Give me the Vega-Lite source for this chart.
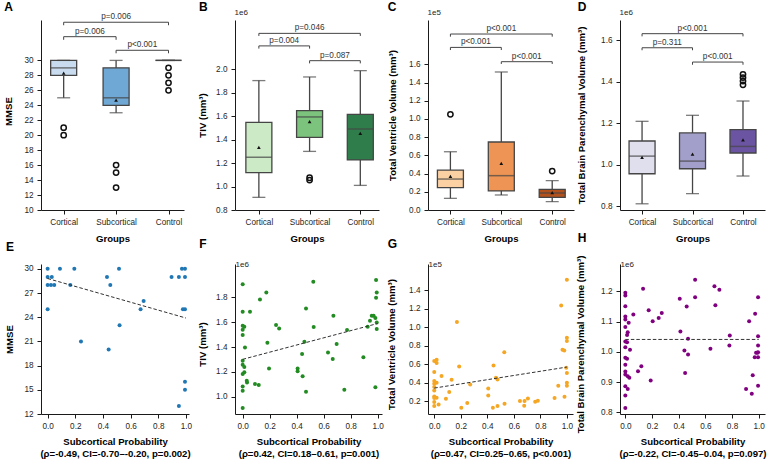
{
"$schema":"https://vega.github.io/schema/vega-lite/v6.json",
"padding":{"left":3,"top":0,"right":5,"bottom":5},
"columns":4,
"spacing":{"row":54,"column":46},
"bounds":"flush",
"resolve":{"scale":{"color":"independent"}},
"config":{"font":"Liberation Sans","view":{"stroke":null},
"axis":{"grid":false,"labelOverlap":false,"labelSeparation":0,"domainColor":"#1a1a1a","tickColor":"#1a1a1a","domainWidth":1,"tickWidth":1,"tickSize":4,"labelFontSize":8.2,"labelColor":"#262626","labelPadding":4,"titleFontSize":9.6,"titleFontWeight":"bold","titleColor":"#000000"},
"axisX":{"labelPadding":4},
"title":{"fontSize":12,"fontWeight":"bold","anchor":"start","frame":"group","color":"#000000","baseline":"alphabetic"}},
"datasets":{
"boxA":[{"group":"Cortical","gx":0,"lower":25,"q1":28,"median":29,"q3":30,"upper":30,"mean":28.3},{"group":"Subcortical","gx":1,"lower":23,"q1":24,"median":25,"q3":29,"upper":30,"mean":24.7},{"group":"Control","gx":2,"lower":30,"q1":30,"median":30,"q3":30,"upper":30,"mean":null}],
"boxB":[{"group":"Cortical","gx":0,"lower":908000,"q1":1119000,"median":1250000,"q3":1548000,"upper":1904000,"mean":1335000},{"group":"Subcortical","gx":1,"lower":1300000,"q1":1420000,"median":1594000,"q3":1648000,"upper":1935000,"mean":1554000},{"group":"Control","gx":2,"lower":1010000,"q1":1227000,"median":1491000,"q3":1616000,"upper":1989000,"mean":1454000}],
"boxC":[{"group":"Cortical","gx":0,"lower":12800,"q1":24500,"median":34000,"q3":43900,"upper":64000,"mean":36900},{"group":"Subcortical","gx":1,"lower":16500,"q1":20900,"median":37700,"q3":74700,"upper":151600,"mean":51200},{"group":"Control","gx":2,"lower":9100,"q1":13900,"median":18700,"q3":22600,"upper":32200,"mean":19000}],
"boxD":[{"group":"Cortical","gx":0,"lower":811000,"q1":956000,"median":1041000,"q3":1114000,"upper":1209000,"mean":1035000},{"group":"Subcortical","gx":1,"lower":860000,"q1":980000,"median":1017000,"q3":1153000,"upper":1238000,"mean":1051000},{"group":"Control","gx":2,"lower":945000,"q1":1056000,"median":1088000,"q3":1169000,"upper":1307000,"mean":1119000}],
"outA":[{"gx":0,"value":21},{"gx":0,"value":20},{"gx":1,"value":16},{"gx":1,"value":15},{"gx":1,"value":13},{"gx":2,"value":29},{"gx":2,"value":28},{"gx":2,"value":27},{"gx":2,"value":26}],
"outB":[{"gx":1,"value":1055000},{"gx":1,"value":1075000}],
"outC":[{"gx":0,"value":105100},{"gx":2,"value":42800}],
"outD":[{"gx":2,"value":1436000},{"gx":2,"value":1420000},{"gx":2,"value":1403000},{"gx":2,"value":1385000}],
"brA":[{"b":"cs","o":0,"gx":0,"y":32.75},{"b":"cs","o":1,"gx":0,"y":33.17},{"b":"cs","o":2,"gx":1,"y":33.17},{"b":"cs","o":3,"gx":1,"y":32.75},{"b":"cc","o":0,"gx":0,"y":34.7},{"b":"cc","o":1,"gx":0,"y":35.1},{"b":"cc","o":2,"gx":2,"y":35.1},{"b":"cc","o":3,"gx":2,"y":34.7},{"b":"sc","o":0,"gx":1,"y":30.95},{"b":"sc","o":1,"gx":1,"y":31.35},{"b":"sc","o":2,"gx":2,"y":31.35},{"b":"sc","o":3,"gx":2,"y":30.95}],
"brB":[{"b":"cs","o":0,"gx":0,"y":2177000},{"b":"cs","o":1,"gx":0,"y":2200000},{"b":"cs","o":2,"gx":1,"y":2200000},{"b":"cs","o":3,"gx":1,"y":2177000},{"b":"cc","o":0,"gx":0,"y":2285000},{"b":"cc","o":1,"gx":0,"y":2307000},{"b":"cc","o":2,"gx":2,"y":2307000},{"b":"cc","o":3,"gx":2,"y":2285000},{"b":"sc","o":0,"gx":1,"y":2051000},{"b":"sc","o":1,"gx":1,"y":2074000},{"b":"sc","o":2,"gx":2,"y":2074000},{"b":"sc","o":3,"gx":2,"y":2051000}],
"brC":[{"b":"cs","o":0,"gx":0,"y":175700},{"b":"cs","o":1,"gx":0,"y":178600},{"b":"cs","o":2,"gx":1,"y":178600},{"b":"cs","o":3,"gx":1,"y":175700},{"b":"cc","o":0,"gx":0,"y":190400},{"b":"cc","o":1,"gx":0,"y":193300},{"b":"cc","o":2,"gx":2,"y":193300},{"b":"cc","o":3,"gx":2,"y":190400},{"b":"sc","o":0,"gx":1,"y":160400},{"b":"sc","o":1,"gx":1,"y":162900},{"b":"sc","o":2,"gx":2,"y":162900},{"b":"sc","o":3,"gx":2,"y":160400}],
"brD":[{"b":"cs","o":0,"gx":0,"y":1552000},{"b":"cs","o":1,"gx":0,"y":1564000},{"b":"cs","o":2,"gx":1,"y":1564000},{"b":"cs","o":3,"gx":1,"y":1552000},{"b":"cc","o":0,"gx":0,"y":1619000},{"b":"cc","o":1,"gx":0,"y":1632000},{"b":"cc","o":2,"gx":2,"y":1632000},{"b":"cc","o":3,"gx":2,"y":1619000},{"b":"sc","o":0,"gx":1,"y":1482000},{"b":"sc","o":1,"gx":1,"y":1495000},{"b":"sc","o":2,"gx":2,"y":1495000},{"b":"sc","o":3,"gx":2,"y":1482000}],
"lbA":[{"gx":0.5,"y":33.17,"label":"p=0.006"},{"gx":1,"y":35.1,"label":"p=0.006"},{"gx":1.5,"y":31.35,"label":"p<0.001"}],
"lbB":[{"gx":0.5,"y":2200000,"label":"p=0.004"},{"gx":1,"y":2307000,"label":"p=0.046"},{"gx":1.5,"y":2074000,"label":"p=0.087"}],
"lbC":[{"gx":0.5,"y":178600,"label":"p<0.001"},{"gx":1,"y":193300,"label":"p<0.001"},{"gx":1.5,"y":162900,"label":"p<0.001"}],
"lbD":[{"gx":0.5,"y":1564000,"label":"p=0.311"},{"gx":1,"y":1632000,"label":"p<0.001"},{"gx":1.5,"y":1495000,"label":"p<0.001"}],
"scE":[{"prob":0,"value":30},{"prob":0,"value":29},{"prob":0.03,"value":29},{"prob":0,"value":28},{"prob":0.024,"value":28},{"prob":0.048,"value":28},{"prob":0,"value":25},{"prob":0.089,"value":30},{"prob":0.193,"value":30},{"prob":0.164,"value":28},{"prob":0.241,"value":21},{"prob":0.429,"value":29},{"prob":0.453,"value":28},{"prob":0.516,"value":30},{"prob":0.52,"value":23},{"prob":0.441,"value":20},{"prob":0.672,"value":25},{"prob":0.694,"value":26},{"prob":0.896,"value":29},{"prob":0.949,"value":29},{"prob":0.971,"value":30},{"prob":0.993,"value":30},{"prob":0.993,"value":29},{"prob":0.978,"value":25},{"prob":0.993,"value":25},{"prob":0.993,"value":16},{"prob":0.993,"value":15},{"prob":0.949,"value":13}],
"scF":[{"prob":0,"value":1907000},{"prob":0,"value":1685000},{"prob":0,"value":1572000},{"prob":0.012,"value":1564000},{"prob":0,"value":1540000},{"prob":0,"value":1497000},{"prob":0.017,"value":1397000},{"prob":0,"value":1290000},{"prob":0,"value":1258000},{"prob":0.012,"value":1239000},{"prob":0,"value":1183000},{"prob":0.012,"value":1196000},{"prob":0,"value":1081000},{"prob":0,"value":1048000},{"prob":0,"value":909000},{"prob":0.03,"value":1129000},{"prob":0.032,"value":1115000},{"prob":0.054,"value":1685000},{"prob":0.091,"value":1102000},{"prob":0.119,"value":1094000},{"prob":0.128,"value":1784000},{"prob":0.175,"value":1840000},{"prob":0.183,"value":1435000},{"prob":0.195,"value":1228000},{"prob":0.247,"value":1577000},{"prob":0.27,"value":1550000},{"prob":0.407,"value":1228000},{"prob":0.407,"value":1204000},{"prob":0.44,"value":1344000},{"prob":0.444,"value":1164000},{"prob":0.457,"value":1443000},{"prob":0.469,"value":1711000},{"prob":0.469,"value":1040000},{"prob":0.523,"value":1926000},{"prob":0.526,"value":1561000},{"prob":0.632,"value":1357000},{"prob":0.667,"value":1303000},{"prob":0.672,"value":1652000},{"prob":0.696,"value":1424000},{"prob":0.753,"value":1056000},{"prob":0.773,"value":1537000},{"prob":0.894,"value":1317000},{"prob":0.926,"value":1564000},{"prob":0.943,"value":1612000},{"prob":0.956,"value":1652000},{"prob":0.97,"value":1652000},{"prob":0.983,"value":1634000},{"prob":0.993,"value":1599000},{"prob":0.993,"value":1545000},{"prob":0.988,"value":1940000},{"prob":0.993,"value":1840000},{"prob":0.988,"value":1797000},{"prob":0.983,"value":1075000}],
"scG":[{"prob":0,"value":63400},{"prob":0,"value":51500},{"prob":0,"value":41700},{"prob":0,"value":38800},{"prob":0,"value":35200},{"prob":0,"value":31600},{"prob":0,"value":25100},{"prob":0,"value":23300},{"prob":0,"value":18900},{"prob":0,"value":14600},{"prob":0.018,"value":64800},{"prob":0.018,"value":61200},{"prob":0.018,"value":39900},{"prob":0.018,"value":23600},{"prob":0.033,"value":16400},{"prob":0.055,"value":47100},{"prob":0.088,"value":22500},{"prob":0.113,"value":29800},{"prob":0.131,"value":43200},{"prob":0.171,"value":105700},{"prob":0.188,"value":57600},{"prob":0.204,"value":12800},{"prob":0.249,"value":17800},{"prob":0.271,"value":38100},{"prob":0.407,"value":33700},{"prob":0.407,"value":26200},{"prob":0.447,"value":58700},{"prob":0.442,"value":12800},{"prob":0.465,"value":45300},{"prob":0.477,"value":43500},{"prob":0.477,"value":14600},{"prob":0.528,"value":73100},{"prob":0.53,"value":17100},{"prob":0.646,"value":20000},{"prob":0.678,"value":15000},{"prob":0.681,"value":20000},{"prob":0.706,"value":22900},{"prob":0.761,"value":19300},{"prob":0.781,"value":20400},{"prob":0.907,"value":23300},{"prob":0.935,"value":36600},{"prob":0.957,"value":123700},{"prob":0.967,"value":75700},{"prob":0.98,"value":75000},{"prob":0.982,"value":24700},{"prob":0.995,"value":56200},{"prob":1.0,"value":151600},{"prob":1.0,"value":88700},{"prob":1.0,"value":85100},{"prob":1.0,"value":50400},{"prob":1.0,"value":40000},{"prob":1.0,"value":36600}],
"scH":[{"prob":0,"value":1196000},{"prob":0,"value":1187000},{"prob":0,"value":1151000},{"prob":0,"value":1117000},{"prob":0,"value":1107000},{"prob":0,"value":1082000},{"prob":0,"value":1034000},{"prob":0,"value":1015000},{"prob":0,"value":980000},{"prob":0,"value":957000},{"prob":0,"value":935000},{"prob":0,"value":925000},{"prob":0,"value":886000},{"prob":0,"value":855000},{"prob":0,"value":814000},{"prob":0.013,"value":1056000},{"prob":0.013,"value":1032000},{"prob":0.013,"value":977000},{"prob":0.018,"value":919000},{"prob":0.018,"value":877000},{"prob":0.018,"value":1065000},{"prob":0.025,"value":1096000},{"prob":0.03,"value":914000},{"prob":0.035,"value":1007000},{"prob":0.06,"value":1124000},{"prob":0.095,"value":936000},{"prob":0.12,"value":952000},{"prob":0.133,"value":1209000},{"prob":0.175,"value":1138000},{"prob":0.19,"value":905000},{"prob":0.205,"value":1101000},{"prob":0.25,"value":1112000},{"prob":0.273,"value":1129000},{"prob":0.408,"value":1176000},{"prob":0.413,"value":1067000},{"prob":0.443,"value":1004000},{"prob":0.448,"value":930000},{"prob":0.46,"value":1150000},{"prob":0.47,"value":1043000},{"prob":0.47,"value":991000},{"prob":0.523,"value":1239000},{"prob":0.523,"value":1181000},{"prob":0.638,"value":1010000},{"prob":0.668,"value":1217000},{"prob":0.675,"value":1154000},{"prob":0.705,"value":1206000},{"prob":0.78,"value":1021000},{"prob":0.783,"value":1054000},{"prob":0.905,"value":877000},{"prob":0.928,"value":1101000},{"prob":0.948,"value":861000},{"prob":0.955,"value":922000},{"prob":0.97,"value":982000},{"prob":0.973,"value":1126000},{"prob":0.98,"value":997000},{"prob":0.99,"value":997000},{"prob":0.995,"value":1181000},{"prob":0.995,"value":888000},{"prob":0.995,"value":1052000},{"prob":0.995,"value":1021000},{"prob":0.995,"value":982000},{"prob":0.995,"value":999000}],
"fitE":[{"prob":0,"value":28.8},{"prob":1,"value":23.9}],
"fitF":[{"prob":0,"value":1301000},{"prob":1,"value":1590000}],
"fitG":[{"prob":0,"value":34100},{"prob":1,"value":56900}],
"fitH":[{"prob":0,"value":1041000},{"prob":1,"value":1041000}]
},
"concat":[
{"width":143,"height":190,"title":{"text":"A","dx":-36.7,"offset":-1.5},
 "layer":[
  {"encoding":{"x":{"field":"gx","type":"quantitative","scale":{"domain":[-0.337,2.2],"nice":false,"zero":false},"axis":{"values":[0,1,2],"tickCount":30,"labelOverlap":false,"labelExpr":"['Cortical','Subcortical','Control'][datum.value]","title":"Groups","titleY":23,"titleBaseline":"top"}}},
   "layer":[
    {"data":{"name":"boxA"},"mark":{"type":"rule","color":"#454545","strokeWidth":1.3},"encoding":{"y":{"field":"lower","type":"quantitative","scale":{"domain":[10,35.4],"nice":false,"zero":false},"axis":{"values":[10,12,14,16,18,20,22,24,26,28,30],"tickCount":30,"format":"d","labelOverlap":false,"title":"MMSE","titleX":-32.7,"titleY":91,"titleBaseline":"middle"}},"y2":{"field":"upper"}}},
    {"data":{"name":"boxA"},"mark":{"type":"bar","size":26,"stroke":"#454545","strokeWidth":1.3},"encoding":{"y":{"field":"q1","type":"quantitative"},"y2":{"field":"q3"},"color":{"field":"group","type":"nominal","scale":{"domain":["Cortical","Subcortical","Control"],"range":["#c9dcef","#6fa8d4","#2f7ebc"]},"legend":null}}},
    {"data":{"name":"boxA"},"mark":{"type":"tick","orient":"horizontal","size":13,"thickness":1.3,"color":"#454545"},"encoding":{"y":{"field":"lower","type":"quantitative"}}},
    {"data":{"name":"boxA"},"mark":{"type":"tick","orient":"horizontal","size":13,"thickness":1.3,"color":"#454545"},"encoding":{"y":{"field":"upper","type":"quantitative"}}},
    {"data":{"name":"boxA"},"mark":{"type":"tick","orient":"horizontal","size":26,"thickness":1.5,"color":"#454545"},"encoding":{"y":{"field":"median","type":"quantitative"}}},
    {"data":{"name":"boxA"},"mark":{"type":"point","shape":"triangle-up","filled":true,"size":14,"color":"#111111","opacity":1},"encoding":{"y":{"field":"mean","type":"quantitative"}}},
    {"data":{"name":"outA"},"mark":{"type":"point","shape":"circle","filled":false,"size":28,"stroke":"#111111","strokeWidth":1.5,"opacity":1},"encoding":{"y":{"field":"value","type":"quantitative"}}},
    {"data":{"name":"brA"},"mark":{"type":"line","color":"#444444","strokeWidth":1},"encoding":{"y":{"field":"y","type":"quantitative"},"detail":{"field":"b"},"order":{"field":"o"}}},
    {"data":{"name":"lbA"},"mark":{"type":"text","fontSize":8.2,"color":"#333333","baseline":"alphabetic","dy":-3},"encoding":{"y":{"field":"y","type":"quantitative"},"text":{"field":"label"}}}
   ]}
 ]},
{"width":144,"height":190,"title":{"text":"B","dx":-36,"offset":-5.5},
 "resolve":{"axis":{"x":"independent"}},
 "layer":[
  {"encoding":{"x":{"field":"gx","type":"quantitative","scale":{"domain":[-0.372,2.27],"nice":false,"zero":false},"axis":{"values":[0,1,2],"tickCount":30,"labelOverlap":false,"labelExpr":"['Cortical','Subcortical','Control'][datum.value]","title":"Groups","titleY":23,"titleBaseline":"top"}}},
   "layer":[
    {"data":{"name":"boxB"},"mark":{"type":"rule","color":"#454545","strokeWidth":1.3},"encoding":{"y":{"field":"lower","type":"quantitative","scale":{"domain":[800000,2421000],"nice":false,"zero":false},"axis":{"values":[800000,1000000,1200000,1400000,1600000,1800000,2000000],"tickCount":30,"labelOverlap":false,"labelExpr":"format(datum.value/1e6,'.1f')","title":"TIV (mm³)","titleX":-32.3,"titleBaseline":"middle"}},"y2":{"field":"upper"}}},
    {"data":{"name":"boxB"},"mark":{"type":"bar","size":26,"stroke":"#454545","strokeWidth":1.3},"encoding":{"y":{"field":"q1","type":"quantitative"},"y2":{"field":"q3"},"color":{"field":"group","type":"nominal","scale":{"domain":["Cortical","Subcortical","Control"],"range":["#cdeac6","#7cc47d","#2e7d4a"]},"legend":null}}},
    {"data":{"name":"boxB"},"mark":{"type":"tick","orient":"horizontal","size":13,"thickness":1.3,"color":"#454545"},"encoding":{"y":{"field":"lower","type":"quantitative"}}},
    {"data":{"name":"boxB"},"mark":{"type":"tick","orient":"horizontal","size":13,"thickness":1.3,"color":"#454545"},"encoding":{"y":{"field":"upper","type":"quantitative"}}},
    {"data":{"name":"boxB"},"mark":{"type":"tick","orient":"horizontal","size":26,"thickness":1.5,"color":"#454545"},"encoding":{"y":{"field":"median","type":"quantitative"}}},
    {"data":{"name":"boxB"},"mark":{"type":"point","shape":"triangle-up","filled":true,"size":14,"color":"#111111","opacity":1},"encoding":{"y":{"field":"mean","type":"quantitative"}}},
    {"data":{"name":"outB"},"mark":{"type":"point","shape":"circle","filled":false,"size":28,"stroke":"#111111","strokeWidth":1.5,"opacity":1},"encoding":{"y":{"field":"value","type":"quantitative"}}},
    {"data":{"name":"brB"},"mark":{"type":"line","color":"#444444","strokeWidth":1},"encoding":{"y":{"field":"y","type":"quantitative"},"detail":{"field":"b"},"order":{"field":"o"}}},
    {"data":{"name":"lbB"},"mark":{"type":"text","fontSize":8.2,"color":"#333333","baseline":"alphabetic","dy":-3},"encoding":{"y":{"field":"y","type":"quantitative"},"text":{"field":"label"}}}
   ]},
  {"data":{"name":"boxB"},"mark":{"type":"point","opacity":0},"encoding":{"x":{"field":"gx","type":"quantitative","axis":{"orient":"top","domain":false,"ticks":false,"labels":false,"title":"1e6","titleX":-1,"titleY":-6,"titleAlign":"left","titleAngle":0,"titleBaseline":"alphabetic","titleFontSize":8,"titleFontWeight":"normal","titleColor":"#262626"}}}}
 ]},
{"width":146,"height":190,"title":{"text":"C","dx":-40.3,"offset":-5.5},
 "resolve":{"axis":{"x":"independent"}},
 "layer":[
  {"encoding":{"x":{"field":"gx","type":"quantitative","scale":{"domain":[-0.342,2.33],"nice":false,"zero":false},"axis":{"values":[0,1,2],"tickCount":30,"labelOverlap":false,"labelExpr":"['Cortical','Subcortical','Control'][datum.value]","title":"Groups","titleY":23,"titleBaseline":"top"}}},
   "layer":[
    {"data":{"name":"boxC"},"mark":{"type":"rule","color":"#454545","strokeWidth":1.3},"encoding":{"y":{"field":"lower","type":"quantitative","scale":{"domain":[0,208700],"nice":false,"zero":false},"axis":{"values":[0,20000,40000,60000,80000,100000,120000,140000,160000],"tickCount":30,"labelOverlap":false,"labelExpr":"format(datum.value/1e5,'.1f')","title":"Total Ventricle Volume (mm³)","titleX":-36,"titleBaseline":"middle"}},"y2":{"field":"upper"}}},
    {"data":{"name":"boxC"},"mark":{"type":"bar","size":26,"stroke":"#454545","strokeWidth":1.3},"encoding":{"y":{"field":"q1","type":"quantitative"},"y2":{"field":"q3"},"color":{"field":"group","type":"nominal","scale":{"domain":["Cortical","Subcortical","Control"],"range":["#fbd0a2","#ee9454","#b3511c"]},"legend":null}}},
    {"data":{"name":"boxC"},"mark":{"type":"tick","orient":"horizontal","size":13,"thickness":1.3,"color":"#454545"},"encoding":{"y":{"field":"lower","type":"quantitative"}}},
    {"data":{"name":"boxC"},"mark":{"type":"tick","orient":"horizontal","size":13,"thickness":1.3,"color":"#454545"},"encoding":{"y":{"field":"upper","type":"quantitative"}}},
    {"data":{"name":"boxC"},"mark":{"type":"tick","orient":"horizontal","size":26,"thickness":1.5,"color":"#454545"},"encoding":{"y":{"field":"median","type":"quantitative"}}},
    {"data":{"name":"boxC"},"mark":{"type":"point","shape":"triangle-up","filled":true,"size":14,"color":"#111111","opacity":1},"encoding":{"y":{"field":"mean","type":"quantitative"}}},
    {"data":{"name":"outC"},"mark":{"type":"point","shape":"circle","filled":false,"size":28,"stroke":"#111111","strokeWidth":1.5,"opacity":1},"encoding":{"y":{"field":"value","type":"quantitative"}}},
    {"data":{"name":"brC"},"mark":{"type":"line","color":"#444444","strokeWidth":1},"encoding":{"y":{"field":"y","type":"quantitative"},"detail":{"field":"b"},"order":{"field":"o"}}},
    {"data":{"name":"lbC"},"mark":{"type":"text","fontSize":8.2,"color":"#333333","baseline":"alphabetic","dy":-3},"encoding":{"y":{"field":"y","type":"quantitative"},"text":{"field":"label"}}}
   ]},
  {"data":{"name":"boxC"},"mark":{"type":"point","opacity":0},"encoding":{"x":{"field":"gx","type":"quantitative","axis":{"orient":"top","domain":false,"ticks":false,"labels":false,"title":"1e5","titleX":-1,"titleY":-6,"titleAlign":"left","titleAngle":0,"titleBaseline":"alphabetic","titleFontSize":8,"titleFontWeight":"normal","titleColor":"#262626"}}}}
 ]},
{"width":145,"height":190,"title":{"text":"D","dx":-42.3,"offset":-5.5},
 "resolve":{"axis":{"x":"independent"}},
 "layer":[
  {"encoding":{"x":{"field":"gx","type":"quantitative","scale":{"domain":[-0.338,2.337],"nice":false,"zero":false},"axis":{"values":[0,1,2],"tickCount":30,"labelOverlap":false,"labelExpr":"['Cortical','Subcortical','Control'][datum.value]","title":"Groups","titleY":23,"titleBaseline":"top"}}},
   "layer":[
    {"data":{"name":"boxD"},"mark":{"type":"rule","color":"#454545","strokeWidth":1.3},"encoding":{"y":{"field":"lower","type":"quantitative","scale":{"domain":[781000,1698000],"nice":false,"zero":false},"axis":{"values":[800000,1000000,1200000,1400000,1600000],"tickCount":30,"labelOverlap":false,"labelExpr":"format(datum.value/1e6,'.1f')","title":"Total Brain Parenchymal Volume (mm³)","titleX":-39,"titleBaseline":"middle"}},"y2":{"field":"upper"}}},
    {"data":{"name":"boxD"},"mark":{"type":"bar","size":26,"stroke":"#454545","strokeWidth":1.3},"encoding":{"y":{"field":"q1","type":"quantitative"},"y2":{"field":"q3"},"color":{"field":"group","type":"nominal","scale":{"domain":["Cortical","Subcortical","Control"],"range":["#e0dfee","#a39fcb","#6b55a3"]},"legend":null}}},
    {"data":{"name":"boxD"},"mark":{"type":"tick","orient":"horizontal","size":13,"thickness":1.3,"color":"#454545"},"encoding":{"y":{"field":"lower","type":"quantitative"}}},
    {"data":{"name":"boxD"},"mark":{"type":"tick","orient":"horizontal","size":13,"thickness":1.3,"color":"#454545"},"encoding":{"y":{"field":"upper","type":"quantitative"}}},
    {"data":{"name":"boxD"},"mark":{"type":"tick","orient":"horizontal","size":26,"thickness":1.5,"color":"#454545"},"encoding":{"y":{"field":"median","type":"quantitative"}}},
    {"data":{"name":"boxD"},"mark":{"type":"point","shape":"triangle-up","filled":true,"size":14,"color":"#111111","opacity":1},"encoding":{"y":{"field":"mean","type":"quantitative"}}},
    {"data":{"name":"outD"},"mark":{"type":"point","shape":"circle","filled":false,"size":28,"stroke":"#111111","strokeWidth":1.5,"opacity":1},"encoding":{"y":{"field":"value","type":"quantitative"}}},
    {"data":{"name":"brD"},"mark":{"type":"line","color":"#444444","strokeWidth":1},"encoding":{"y":{"field":"y","type":"quantitative"},"detail":{"field":"b"},"order":{"field":"o"}}},
    {"data":{"name":"lbD"},"mark":{"type":"text","fontSize":8.2,"color":"#333333","baseline":"alphabetic","dy":-3},"encoding":{"y":{"field":"y","type":"quantitative"},"text":{"field":"label"}}}
   ]},
  {"data":{"name":"boxD"},"mark":{"type":"point","opacity":0},"encoding":{"x":{"field":"gx","type":"quantitative","axis":{"orient":"top","domain":false,"ticks":false,"labels":false,"title":"1e6","titleX":-1,"titleY":-6,"titleAlign":"left","titleAngle":0,"titleBaseline":"alphabetic","titleFontSize":8,"titleFontWeight":"normal","titleColor":"#262626"}}}}
 ]},
{"width":148,"height":150,"title":{"text":"E","dx":-35,"offset":10},
 "encoding":{"x":{"field":"prob","type":"quantitative","scale":{"domain":[-0.048,1.022],"nice":false,"zero":false},"axis":{"values":[0,0.2,0.4,0.6,0.8,1],"tickCount":30,"labelOverlap":false,"format":".1f","title":["Subcortical Probability","(ρ=-0.49, CI=-0.70–-0.20, p=0.002)"],"titleY":22.5,"titleBaseline":"top","titleLineHeight":11.7}},
  "y":{"field":"value","type":"quantitative","scale":{"domain":[12,30.6],"nice":false,"zero":false},"axis":{"values":[12,15,18,21,24,27,30],"tickCount":30,"format":"d","labelOverlap":false,"title":"MMSE","titleX":-31.7,"titleBaseline":"middle"}}},
 "layer":[
  {"data":{"name":"scE"},"mark":{"type":"circle","size":16,"opacity":1,"color":"#1f77b4"}},
  {"data":{"name":"fitE"},"mark":{"type":"line","strokeDash":[3.5,2],"color":"#333333","strokeWidth":1}}
 ]},
{"width":147,"height":150,"title":{"text":"F","dx":-35.7,"offset":10},
 "resolve":{"axis":{"x":"independent"}},
 "layer":[
  {"encoding":{"x":{"field":"prob","type":"quantitative","scale":{"domain":[-0.057,1.032],"nice":false,"zero":false},"axis":{"values":[0,0.2,0.4,0.6,0.8,1],"tickCount":30,"labelOverlap":false,"format":".1f","title":["Subcortical Probability","(ρ=0.42, CI=0.18–0.61, p=0.001)"],"titleY":22.5,"titleBaseline":"top","titleLineHeight":11.7}},
   "y":{"field":"value","type":"quantitative","scale":{"domain":[860000,2070000],"nice":false,"zero":false},"axis":{"values":[1000000,1200000,1400000,1600000,1800000],"tickCount":30,"labelOverlap":false,"labelExpr":"format(datum.value/1e6,'.1f')","title":"TIV (mm³)","titleX":-32.3,"titleY":80,"titleBaseline":"middle"}}},
   "layer":[
    {"data":{"name":"scF"},"mark":{"type":"circle","size":16,"opacity":1,"color":"#228b22"}},
    {"data":{"name":"fitF"},"mark":{"type":"line","strokeDash":[3.5,2],"color":"#333333","strokeWidth":1}}
   ]},
  {"data":{"name":"scF"},"mark":{"type":"point","opacity":0},"encoding":{"x":{"field":"prob","type":"quantitative","axis":{"orient":"top","domain":false,"ticks":false,"labels":false,"title":"1e6","titleX":0,"titleY":2.7,"titleAlign":"left","titleAngle":0,"titleBaseline":"alphabetic","titleFontSize":8,"titleFontWeight":"normal","titleColor":"#262626"}}}}
 ]},
{"width":145,"height":150,"title":{"text":"G","dx":-40.3,"offset":10},
 "resolve":{"axis":{"x":"independent"}},
 "layer":[
  {"encoding":{"x":{"field":"prob","type":"quantitative","scale":{"domain":[-0.047,1.046],"nice":false,"zero":false},"axis":{"values":[0,0.2,0.4,0.6,0.8,1],"tickCount":30,"labelOverlap":false,"format":".1f","title":["Subcortical Probability","(ρ=0.47, CI=0.25–0.65, p<0.001)"],"titleY":22.5,"titleBaseline":"top","titleLineHeight":11.7}},
   "y":{"field":"value","type":"quantitative","scale":{"domain":[6000,168700],"nice":false,"zero":false},"axis":{"values":[20000,40000,60000,80000,100000,120000,140000],"tickCount":30,"labelOverlap":false,"labelExpr":"format(datum.value/1e5,'.1f')","title":"Total Ventricle Volume (mm³)","titleX":-37,"titleY":80,"titleBaseline":"middle"}}},
   "layer":[
    {"data":{"name":"scG"},"mark":{"type":"circle","size":16,"opacity":1,"color":"#f5a623"}},
    {"data":{"name":"fitG"},"mark":{"type":"line","strokeDash":[3.5,2],"color":"#333333","strokeWidth":1}}
   ]},
  {"data":{"name":"scG"},"mark":{"type":"point","opacity":0},"encoding":{"x":{"field":"prob","type":"quantitative","axis":{"orient":"top","domain":false,"ticks":false,"labels":false,"title":"1e5","titleX":0,"titleY":2.7,"titleAlign":"left","titleAngle":0,"titleBaseline":"alphabetic","titleFontSize":8,"titleFontWeight":"normal","titleColor":"#262626"}}}}
 ]},
{"width":145,"height":150,"title":{"text":"H","dx":-42.3,"offset":10},
 "resolve":{"axis":{"x":"independent"}},
 "layer":[
  {"encoding":{"x":{"field":"prob","type":"quantitative","scale":{"domain":[-0.04,1.047],"nice":false,"zero":false},"axis":{"values":[0,0.2,0.4,0.6,0.8,1],"tickCount":30,"labelOverlap":false,"format":".1f","title":["Subcortical Probability","(ρ=-0.22, CI=-0.45–0.04, p=0.097)"],"titleY":22.5,"titleBaseline":"top","titleLineHeight":11.7}},
   "y":{"field":"value","type":"quantitative","scale":{"domain":[794000,1291000],"nice":false,"zero":false},"axis":{"values":[800000,900000,1000000,1100000,1200000],"tickCount":30,"labelOverlap":false,"labelExpr":"format(datum.value/1e6,'.1f')","title":"Total Brain Parenchymal Volume (mm³)","titleX":-39.3,"titleY":80,"titleBaseline":"middle"}}},
   "layer":[
    {"data":{"name":"scH"},"mark":{"type":"circle","size":16,"opacity":1,"color":"#800080"}},
    {"data":{"name":"fitH"},"mark":{"type":"line","strokeDash":[3.5,2],"color":"#333333","strokeWidth":1}}
   ]},
  {"data":{"name":"scH"},"mark":{"type":"point","opacity":0},"encoding":{"x":{"field":"prob","type":"quantitative","axis":{"orient":"top","domain":false,"ticks":false,"labels":false,"title":"1e6","titleX":0,"titleY":2.7,"titleAlign":"left","titleAngle":0,"titleBaseline":"alphabetic","titleFontSize":8,"titleFontWeight":"normal","titleColor":"#262626"}}}}
 ]}
]
}
